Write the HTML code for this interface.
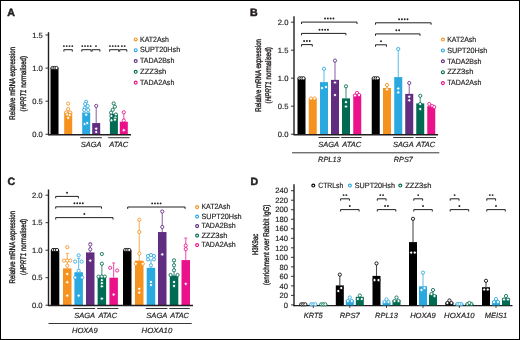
<!DOCTYPE html>
<html><head><meta charset="utf-8"><style>
html,body{margin:0;padding:0;background:#fff;}
svg{display:block;will-change:transform;}
text{font-family:"Liberation Sans",sans-serif;text-rendering:geometricPrecision;fill:#231F20;stroke:#231F20;stroke-width:0.18px;}
</style></head><body>
<svg width="520" height="340" viewBox="0 0 520 340">
<rect x="0" y="0" width="520" height="340" fill="#fff"/>
<text x="7.3" y="15.7" font-size="10.6" text-anchor="start" font-weight="bold" style="stroke-width:0.5px">A</text>
<line x1="48.5" y1="32.2" x2="48.5" y2="135.1" stroke="#231F20" stroke-width="1.4"/>
<line x1="45.5" y1="134.3" x2="48.5" y2="134.3" stroke="#231F20" stroke-width="0.9"/>
<text x="42.8" y="137" font-size="7.6" text-anchor="end">0.0</text>
<line x1="45.5" y1="101.2" x2="48.5" y2="101.2" stroke="#231F20" stroke-width="0.9"/>
<text x="42.8" y="103.9" font-size="7.6" text-anchor="end">0.5</text>
<line x1="45.5" y1="68.1" x2="48.5" y2="68.1" stroke="#231F20" stroke-width="0.9"/>
<text x="42.8" y="70.8" font-size="7.6" text-anchor="end">1.0</text>
<line x1="45.5" y1="35" x2="48.5" y2="35" stroke="#231F20" stroke-width="0.9"/>
<text x="42.8" y="37.7" font-size="7.6" text-anchor="end">1.5</text>
<g transform="translate(14.9,83.3) rotate(-90)">
<text x="0" y="0" font-size="8.2" text-anchor="middle" textLength="72.7" lengthAdjust="spacingAndGlyphs" style="stroke-width:0.38px">Relative mRNA expression</text>
</g>
<g transform="translate(25.7,83.7) rotate(-90)">
<text x="0" y="0" font-size="8.2" text-anchor="middle" textLength="55.4" lengthAdjust="spacingAndGlyphs" style="stroke-width:0.38px">(<tspan font-style="italic">HPRT1</tspan> normalised)</text>
</g>
<rect x="50.5" y="68.1" width="8" height="66.2" fill="#000000"/>
<rect x="64.2" y="111.79" width="8" height="22.51" fill="#F6921E"/>
<rect x="82.2" y="112.45" width="8" height="21.85" fill="#2AA8E0"/>
<g opacity="0.7">
<line x1="96.2" y1="123.05" x2="96.2" y2="105.83" stroke="#612D80" stroke-width="1.1"/>
<line x1="94.7" y1="105.83" x2="97.7" y2="105.83" stroke="#612D80" stroke-width="1.1"/>
</g>
<rect x="92.2" y="123.05" width="8" height="11.25" fill="#612D80"/>
<rect x="109.9" y="113.78" width="8" height="20.52" fill="#006B52"/>
<g opacity="0.7">
<line x1="123.8" y1="121.72" x2="123.8" y2="112.45" stroke="#EB118B" stroke-width="1.1"/>
<line x1="122.3" y1="112.45" x2="125.3" y2="112.45" stroke="#EB118B" stroke-width="1.1"/>
</g>
<rect x="119.8" y="121.72" width="8" height="12.58" fill="#EB118B"/>
<circle cx="52.5" cy="68" r="1.6" fill="#fff" stroke="#000000" stroke-width="0.85"/>
<circle cx="54.5" cy="68" r="1.6" fill="#fff" stroke="#000000" stroke-width="0.85"/>
<circle cx="56.5" cy="68" r="1.6" fill="#fff" stroke="#000000" stroke-width="0.85"/>
<circle cx="68.2" cy="103.6" r="1.6" fill="#fff" stroke="#F6921E" stroke-width="0.85"/>
<circle cx="68.2" cy="109" r="1.6" fill="#fff" stroke="#F6921E" stroke-width="0.85"/>
<circle cx="66.2" cy="112.5" r="1.6" fill="#fff" stroke="#F6921E" stroke-width="0.85"/>
<circle cx="70.2" cy="112.5" r="1.6" fill="#fff" stroke="#F6921E" stroke-width="0.85"/>
<circle cx="67.2" cy="114.5" r="1.6" fill="#fff" stroke="#F6921E" stroke-width="0.85"/>
<circle cx="69.7" cy="115" r="1.6" fill="#fff" stroke="#F6921E" stroke-width="0.85"/>
<circle cx="68.2" cy="117.8" r="1.6" fill="#fff" stroke="#F6921E" stroke-width="0.85"/>
<circle cx="86.2" cy="101.8" r="1.6" fill="#fff" stroke="#2AA8E0" stroke-width="0.85"/>
<circle cx="85.2" cy="104" r="1.6" fill="#fff" stroke="#2AA8E0" stroke-width="0.85"/>
<circle cx="87.7" cy="106" r="1.6" fill="#fff" stroke="#2AA8E0" stroke-width="0.85"/>
<circle cx="84.7" cy="108" r="1.6" fill="#fff" stroke="#2AA8E0" stroke-width="0.85"/>
<circle cx="84.2" cy="110" r="1.6" fill="#fff" stroke="#2AA8E0" stroke-width="0.85"/>
<circle cx="88.2" cy="110" r="1.6" fill="#fff" stroke="#2AA8E0" stroke-width="0.85"/>
<circle cx="86.2" cy="114.7" r="1.6" fill="#fff" stroke="#2AA8E0" stroke-width="0.85"/>
<circle cx="84.7" cy="124" r="1.6" fill="#fff" stroke="#2AA8E0" stroke-width="0.85"/>
<circle cx="87.2" cy="123" r="1.6" fill="#fff" stroke="#2AA8E0" stroke-width="0.85"/>
<circle cx="96.2" cy="105.9" r="1.6" fill="#fff" stroke="#612D80" stroke-width="0.85"/>
<circle cx="96.2" cy="128.7" r="1.6" fill="#fff" stroke="#612D80" stroke-width="0.85"/>
<circle cx="96.2" cy="132" r="1.6" fill="#fff" stroke="#612D80" stroke-width="0.85"/>
<circle cx="113.7" cy="103.4" r="1.6" fill="#fff" stroke="#006B52" stroke-width="0.85"/>
<circle cx="114.9" cy="106.7" r="1.6" fill="#fff" stroke="#006B52" stroke-width="0.85"/>
<circle cx="112.7" cy="109.8" r="1.6" fill="#fff" stroke="#006B52" stroke-width="0.85"/>
<circle cx="111.1" cy="112.7" r="1.6" fill="#fff" stroke="#006B52" stroke-width="0.85"/>
<circle cx="115.9" cy="114.5" r="1.6" fill="#fff" stroke="#006B52" stroke-width="0.85"/>
<circle cx="111.4" cy="116" r="1.6" fill="#fff" stroke="#006B52" stroke-width="0.85"/>
<circle cx="115.4" cy="117.6" r="1.6" fill="#fff" stroke="#006B52" stroke-width="0.85"/>
<circle cx="111.4" cy="120.3" r="1.6" fill="#fff" stroke="#006B52" stroke-width="0.85"/>
<circle cx="114.9" cy="119.7" r="1.6" fill="#fff" stroke="#006B52" stroke-width="0.85"/>
<circle cx="123.8" cy="112.3" r="1.6" fill="#fff" stroke="#EB118B" stroke-width="0.85"/>
<circle cx="123.8" cy="120.5" r="1.6" fill="#fff" stroke="#EB118B" stroke-width="0.85"/>
<circle cx="123.8" cy="130.2" r="1.6" fill="#fff" stroke="#EB118B" stroke-width="0.85"/>
<line x1="48" y1="134.7" x2="131" y2="134.7" stroke="#231F20" stroke-width="1.4"/>
<line x1="80.2" y1="137.7" x2="101.8" y2="137.7" stroke="#231F20" stroke-width="0.9"/>
<line x1="108.2" y1="137.7" x2="129.5" y2="137.7" stroke="#231F20" stroke-width="0.9"/>
<text x="91.2" y="146.6" font-size="7.5" text-anchor="middle" font-style="italic" textLength="20.7" lengthAdjust="spacingAndGlyphs">SAGA</text>
<text x="118.8" y="146.6" font-size="7.5" text-anchor="middle" font-style="italic" textLength="19" lengthAdjust="spacingAndGlyphs">ATAC</text>
<path d="M63.9 51.6V49.7H72.3V51.6" fill="none" stroke="#231F20" stroke-width="1.0"/>
<circle cx="63.9" cy="46.1" r="0.95" fill="#231F20"/>
<circle cx="66.7" cy="46.1" r="0.95" fill="#231F20"/>
<circle cx="69.5" cy="46.1" r="0.95" fill="#231F20"/>
<circle cx="72.3" cy="46.1" r="0.95" fill="#231F20"/>
<path d="M81.8 51.6V49.7H91.1V51.6" fill="none" stroke="#231F20" stroke-width="1.0"/>
<circle cx="82.25" cy="46.1" r="0.95" fill="#231F20"/>
<circle cx="85.05" cy="46.1" r="0.95" fill="#231F20"/>
<circle cx="87.85" cy="46.1" r="0.95" fill="#231F20"/>
<circle cx="90.65" cy="46.1" r="0.95" fill="#231F20"/>
<path d="M92.1 51.6V49.7H99.9V51.6" fill="none" stroke="#231F20" stroke-width="1.0"/>
<circle cx="96" cy="46.1" r="0.95" fill="#231F20"/>
<path d="M109.6 51.6V49.7H118.7V51.6" fill="none" stroke="#231F20" stroke-width="1.0"/>
<circle cx="109.95" cy="46.1" r="0.95" fill="#231F20"/>
<circle cx="112.75" cy="46.1" r="0.95" fill="#231F20"/>
<circle cx="115.55" cy="46.1" r="0.95" fill="#231F20"/>
<circle cx="118.35" cy="46.1" r="0.95" fill="#231F20"/>
<path d="M119.7 51.6V49.7H126.8V51.6" fill="none" stroke="#231F20" stroke-width="1.0"/>
<circle cx="121.85" cy="46.1" r="0.95" fill="#231F20"/>
<circle cx="124.65" cy="46.1" r="0.95" fill="#231F20"/>
<circle cx="135.7" cy="39.4" r="1.45" fill="#fff" stroke="#F6921E" stroke-width="1.15"/>
<text x="140" y="41.6" font-size="7.6" text-anchor="start" textLength="29" lengthAdjust="spacingAndGlyphs">KAT2Ash</text>
<circle cx="135.7" cy="50.2" r="1.45" fill="#fff" stroke="#2AA8E0" stroke-width="1.15"/>
<text x="140" y="52.4" font-size="7.6" text-anchor="start" textLength="40.2" lengthAdjust="spacingAndGlyphs">SUPT20Hsh</text>
<circle cx="135.7" cy="61" r="1.45" fill="#fff" stroke="#612D80" stroke-width="1.15"/>
<text x="140" y="63.2" font-size="7.6" text-anchor="start" textLength="34.3" lengthAdjust="spacingAndGlyphs">TADA2Bsh</text>
<circle cx="135.7" cy="71.8" r="1.45" fill="#fff" stroke="#006B52" stroke-width="1.15"/>
<text x="140" y="74" font-size="7.6" text-anchor="start" textLength="26.2" lengthAdjust="spacingAndGlyphs">ZZZ3sh</text>
<circle cx="135.7" cy="82.6" r="1.45" fill="#fff" stroke="#EB118B" stroke-width="1.15"/>
<text x="140" y="84.8" font-size="7.6" text-anchor="start" textLength="34.3" lengthAdjust="spacingAndGlyphs">TADA2Ash</text>
<text x="250" y="15.9" font-size="10.6" text-anchor="start" font-weight="bold" style="stroke-width:0.5px">B</text>
<line x1="294" y1="16.2" x2="294" y2="135.1" stroke="#231F20" stroke-width="1.4"/>
<line x1="291" y1="134.2" x2="294" y2="134.2" stroke="#231F20" stroke-width="0.9"/>
<text x="288.4" y="136.9" font-size="7.6" text-anchor="end">0.0</text>
<line x1="291" y1="106.2" x2="294" y2="106.2" stroke="#231F20" stroke-width="0.9"/>
<text x="288.4" y="108.9" font-size="7.6" text-anchor="end">0.5</text>
<line x1="291" y1="78.2" x2="294" y2="78.2" stroke="#231F20" stroke-width="0.9"/>
<text x="288.4" y="80.9" font-size="7.6" text-anchor="end">1.0</text>
<line x1="291" y1="50.2" x2="294" y2="50.2" stroke="#231F20" stroke-width="0.9"/>
<text x="288.4" y="52.9" font-size="7.6" text-anchor="end">1.5</text>
<line x1="291" y1="22.2" x2="294" y2="22.2" stroke="#231F20" stroke-width="0.9"/>
<text x="288.4" y="24.9" font-size="7.6" text-anchor="end">2.0</text>
<g transform="translate(260.5,75.4) rotate(-90)">
<text x="0" y="0" font-size="8.2" text-anchor="middle" textLength="72.8" lengthAdjust="spacingAndGlyphs" style="stroke-width:0.38px">Relative mRNA expression</text>
</g>
<g transform="translate(271.1,75.3) rotate(-90)">
<text x="0" y="0" font-size="8.2" text-anchor="middle" textLength="56.2" lengthAdjust="spacingAndGlyphs" style="stroke-width:0.38px">(<tspan font-style="italic">HPRT1</tspan> normalised)</text>
</g>
<rect x="297.5" y="78.2" width="8" height="56.1" fill="#000000"/>
<rect x="308.75" y="98.36" width="8" height="35.94" fill="#F6921E"/>
<g opacity="0.7">
<line x1="324" y1="82.12" x2="324" y2="69.24" stroke="#2AA8E0" stroke-width="1.1"/>
<line x1="322.5" y1="69.24" x2="325.5" y2="69.24" stroke="#2AA8E0" stroke-width="1.1"/>
</g>
<rect x="320" y="82.12" width="8" height="52.18" fill="#2AA8E0"/>
<g opacity="0.7">
<line x1="335" y1="79.88" x2="335" y2="60.84" stroke="#612D80" stroke-width="1.1"/>
<line x1="333.5" y1="60.84" x2="336.5" y2="60.84" stroke="#612D80" stroke-width="1.1"/>
</g>
<rect x="331" y="79.88" width="8" height="54.42" fill="#612D80"/>
<g opacity="0.7">
<line x1="346" y1="98.36" x2="346" y2="86.6" stroke="#006B52" stroke-width="1.1"/>
<line x1="344.5" y1="86.6" x2="347.5" y2="86.6" stroke="#006B52" stroke-width="1.1"/>
</g>
<rect x="342" y="98.36" width="8" height="35.94" fill="#006B52"/>
<rect x="353.25" y="94.44" width="8" height="39.86" fill="#EB118B"/>
<circle cx="299.5" cy="78.3" r="1.6" fill="#fff" stroke="#000000" stroke-width="0.85"/>
<circle cx="301.5" cy="78.3" r="1.6" fill="#fff" stroke="#000000" stroke-width="0.85"/>
<circle cx="303.5" cy="78.3" r="1.6" fill="#fff" stroke="#000000" stroke-width="0.85"/>
<circle cx="310.95" cy="98.5" r="1.6" fill="#fff" stroke="#F6921E" stroke-width="0.85"/>
<circle cx="314.55" cy="98.5" r="1.6" fill="#fff" stroke="#F6921E" stroke-width="0.85"/>
<circle cx="324" cy="68.8" r="1.6" fill="#fff" stroke="#2AA8E0" stroke-width="0.85"/>
<circle cx="322" cy="88" r="1.6" fill="#fff" stroke="#2AA8E0" stroke-width="0.85"/>
<circle cx="326" cy="87" r="1.6" fill="#fff" stroke="#2AA8E0" stroke-width="0.85"/>
<circle cx="335" cy="60.6" r="1.6" fill="#fff" stroke="#612D80" stroke-width="0.85"/>
<circle cx="335" cy="82.5" r="1.6" fill="#fff" stroke="#612D80" stroke-width="0.85"/>
<circle cx="335" cy="95" r="1.6" fill="#fff" stroke="#612D80" stroke-width="0.85"/>
<circle cx="346" cy="86.3" r="1.6" fill="#fff" stroke="#006B52" stroke-width="0.85"/>
<circle cx="346" cy="102.1" r="1.6" fill="#fff" stroke="#006B52" stroke-width="0.85"/>
<circle cx="346" cy="106.5" r="1.6" fill="#fff" stroke="#006B52" stroke-width="0.85"/>
<circle cx="355" cy="95.5" r="1.6" fill="#fff" stroke="#EB118B" stroke-width="0.85"/>
<circle cx="357" cy="92.9" r="1.6" fill="#fff" stroke="#EB118B" stroke-width="0.85"/>
<circle cx="359.1" cy="95" r="1.6" fill="#fff" stroke="#EB118B" stroke-width="0.85"/>
<rect x="371.75" y="78.2" width="8" height="56.1" fill="#000000"/>
<g opacity="0.7">
<line x1="387" y1="88" x2="387" y2="84.36" stroke="#F6921E" stroke-width="1.1"/>
<line x1="385.5" y1="84.36" x2="388.5" y2="84.36" stroke="#F6921E" stroke-width="1.1"/>
</g>
<rect x="383" y="88" width="8" height="46.3" fill="#F6921E"/>
<g opacity="0.7">
<line x1="398.25" y1="77.08" x2="398.25" y2="49.08" stroke="#2AA8E0" stroke-width="1.1"/>
<line x1="396.75" y1="49.08" x2="399.75" y2="49.08" stroke="#2AA8E0" stroke-width="1.1"/>
</g>
<rect x="394.25" y="77.08" width="8" height="57.22" fill="#2AA8E0"/>
<g opacity="0.7">
<line x1="409.25" y1="93.88" x2="409.25" y2="83.24" stroke="#612D80" stroke-width="1.1"/>
<line x1="407.75" y1="83.24" x2="410.75" y2="83.24" stroke="#612D80" stroke-width="1.1"/>
</g>
<rect x="405.25" y="93.88" width="8" height="40.42" fill="#612D80"/>
<g opacity="0.7">
<line x1="420.25" y1="103.4" x2="420.25" y2="95.56" stroke="#006B52" stroke-width="1.1"/>
<line x1="418.75" y1="95.56" x2="421.75" y2="95.56" stroke="#006B52" stroke-width="1.1"/>
</g>
<rect x="416.25" y="103.4" width="8" height="30.9" fill="#006B52"/>
<rect x="427.25" y="106.2" width="8" height="28.1" fill="#EB118B"/>
<circle cx="373.75" cy="78.3" r="1.6" fill="#fff" stroke="#000000" stroke-width="0.85"/>
<circle cx="375.75" cy="78.3" r="1.6" fill="#fff" stroke="#000000" stroke-width="0.85"/>
<circle cx="377.75" cy="78.3" r="1.6" fill="#fff" stroke="#000000" stroke-width="0.85"/>
<circle cx="387" cy="85" r="1.6" fill="#fff" stroke="#F6921E" stroke-width="0.85"/>
<circle cx="387" cy="89.4" r="1.6" fill="#fff" stroke="#F6921E" stroke-width="0.85"/>
<circle cx="398.25" cy="49" r="1.6" fill="#fff" stroke="#2AA8E0" stroke-width="0.85"/>
<circle cx="398.25" cy="88.5" r="1.6" fill="#fff" stroke="#2AA8E0" stroke-width="0.85"/>
<circle cx="398.25" cy="92.4" r="1.6" fill="#fff" stroke="#2AA8E0" stroke-width="0.85"/>
<circle cx="409.25" cy="83" r="1.6" fill="#fff" stroke="#612D80" stroke-width="0.85"/>
<circle cx="409.25" cy="96.7" r="1.6" fill="#fff" stroke="#612D80" stroke-width="0.85"/>
<circle cx="409.25" cy="100.3" r="1.6" fill="#fff" stroke="#612D80" stroke-width="0.85"/>
<circle cx="420.25" cy="95.8" r="1.6" fill="#fff" stroke="#006B52" stroke-width="0.85"/>
<circle cx="420.25" cy="104" r="1.6" fill="#fff" stroke="#006B52" stroke-width="0.85"/>
<circle cx="420.25" cy="109" r="1.6" fill="#fff" stroke="#006B52" stroke-width="0.85"/>
<circle cx="429.25" cy="104" r="1.6" fill="#fff" stroke="#EB118B" stroke-width="0.85"/>
<circle cx="432.25" cy="106" r="1.6" fill="#fff" stroke="#EB118B" stroke-width="0.85"/>
<circle cx="434.25" cy="107" r="1.6" fill="#fff" stroke="#EB118B" stroke-width="0.85"/>
<line x1="293.5" y1="134.7" x2="438" y2="134.7" stroke="#231F20" stroke-width="1.4"/>
<line x1="318.5" y1="137.5" x2="339.5" y2="137.5" stroke="#231F20" stroke-width="0.9"/>
<line x1="341.2" y1="137.5" x2="361.5" y2="137.5" stroke="#231F20" stroke-width="0.9"/>
<line x1="393.2" y1="137.5" x2="413.5" y2="137.5" stroke="#231F20" stroke-width="0.9"/>
<line x1="415.6" y1="137.5" x2="436" y2="137.5" stroke="#231F20" stroke-width="0.9"/>
<text x="328.6" y="146.6" font-size="7.5" text-anchor="middle" font-style="italic" textLength="20.7" lengthAdjust="spacingAndGlyphs">SAGA</text>
<text x="351.7" y="146.6" font-size="7.5" text-anchor="middle" font-style="italic" textLength="19" lengthAdjust="spacingAndGlyphs">ATAC</text>
<text x="403.3" y="146.6" font-size="7.5" text-anchor="middle" font-style="italic" textLength="20.7" lengthAdjust="spacingAndGlyphs">SAGA</text>
<text x="425.8" y="146.6" font-size="7.5" text-anchor="middle" font-style="italic" textLength="19" lengthAdjust="spacingAndGlyphs">ATAC</text>
<line x1="292" y1="152.8" x2="439.3" y2="152.8" stroke="#231F20" stroke-width="0.9"/>
<text x="329.4" y="162" font-size="7.5" text-anchor="middle" font-style="italic" textLength="22.8" lengthAdjust="spacingAndGlyphs">RPL13</text>
<text x="403.3" y="162" font-size="7.5" text-anchor="middle" font-style="italic" textLength="19" lengthAdjust="spacingAndGlyphs">RPS7</text>
<path d="M301.5 24V22.1H357V24" fill="none" stroke="#231F20" stroke-width="1.0"/>
<circle cx="325.05" cy="18.5" r="0.95" fill="#231F20"/>
<circle cx="327.85" cy="18.5" r="0.95" fill="#231F20"/>
<circle cx="330.65" cy="18.5" r="0.95" fill="#231F20"/>
<circle cx="333.45" cy="18.5" r="0.95" fill="#231F20"/>
<path d="M301.5 35.3V33.4H345.9V35.3" fill="none" stroke="#231F20" stroke-width="1.0"/>
<circle cx="319.5" cy="29.8" r="0.95" fill="#231F20"/>
<circle cx="322.3" cy="29.8" r="0.95" fill="#231F20"/>
<circle cx="325.1" cy="29.8" r="0.95" fill="#231F20"/>
<circle cx="327.9" cy="29.8" r="0.95" fill="#231F20"/>
<path d="M301.5 46.5V44.6H312.3V46.5" fill="none" stroke="#231F20" stroke-width="1.0"/>
<circle cx="304.1" cy="41" r="0.95" fill="#231F20"/>
<circle cx="306.9" cy="41" r="0.95" fill="#231F20"/>
<circle cx="309.7" cy="41" r="0.95" fill="#231F20"/>
<path d="M375.5 24.7V22.8H431.1V24.7" fill="none" stroke="#231F20" stroke-width="1.0"/>
<circle cx="399.1" cy="19.2" r="0.95" fill="#231F20"/>
<circle cx="401.9" cy="19.2" r="0.95" fill="#231F20"/>
<circle cx="404.7" cy="19.2" r="0.95" fill="#231F20"/>
<circle cx="407.5" cy="19.2" r="0.95" fill="#231F20"/>
<path d="M375.5 35.8V33.9H420V35.8" fill="none" stroke="#231F20" stroke-width="1.0"/>
<circle cx="396.35" cy="30.3" r="0.95" fill="#231F20"/>
<circle cx="399.15" cy="30.3" r="0.95" fill="#231F20"/>
<path d="M375.5 46.7V44.8H386.5V46.7" fill="none" stroke="#231F20" stroke-width="1.0"/>
<circle cx="381" cy="41.2" r="0.95" fill="#231F20"/>
<circle cx="442.9" cy="39.5" r="1.45" fill="#fff" stroke="#F6921E" stroke-width="1.15"/>
<text x="447.2" y="41.7" font-size="7.6" text-anchor="start" textLength="29" lengthAdjust="spacingAndGlyphs">KAT2Ash</text>
<circle cx="442.9" cy="50.4" r="1.45" fill="#fff" stroke="#2AA8E0" stroke-width="1.15"/>
<text x="447.2" y="52.6" font-size="7.6" text-anchor="start" textLength="40.2" lengthAdjust="spacingAndGlyphs">SUPT20Hsh</text>
<circle cx="442.9" cy="61.3" r="1.45" fill="#fff" stroke="#612D80" stroke-width="1.15"/>
<text x="447.2" y="63.5" font-size="7.6" text-anchor="start" textLength="34.3" lengthAdjust="spacingAndGlyphs">TADA2Bsh</text>
<circle cx="442.9" cy="72.2" r="1.45" fill="#fff" stroke="#006B52" stroke-width="1.15"/>
<text x="447.2" y="74.4" font-size="7.6" text-anchor="start" textLength="26.2" lengthAdjust="spacingAndGlyphs">ZZZ3sh</text>
<circle cx="442.9" cy="83.1" r="1.45" fill="#fff" stroke="#EB118B" stroke-width="1.15"/>
<text x="447.2" y="85.3" font-size="7.6" text-anchor="start" textLength="34.3" lengthAdjust="spacingAndGlyphs">TADA2Ash</text>
<text x="7.4" y="184.7" font-size="10.6" text-anchor="start" font-weight="bold" style="stroke-width:0.5px">C</text>
<line x1="48.5" y1="189.5" x2="48.5" y2="306" stroke="#231F20" stroke-width="1.4"/>
<line x1="45.5" y1="305.2" x2="48.5" y2="305.2" stroke="#231F20" stroke-width="0.9"/>
<text x="42.6" y="307.9" font-size="7.6" text-anchor="end">0.0</text>
<line x1="45.5" y1="277.7" x2="48.5" y2="277.7" stroke="#231F20" stroke-width="0.9"/>
<text x="42.6" y="280.4" font-size="7.6" text-anchor="end">0.5</text>
<line x1="45.5" y1="250.2" x2="48.5" y2="250.2" stroke="#231F20" stroke-width="0.9"/>
<text x="42.6" y="252.9" font-size="7.6" text-anchor="end">1.0</text>
<line x1="45.5" y1="222.7" x2="48.5" y2="222.7" stroke="#231F20" stroke-width="0.9"/>
<text x="42.6" y="225.4" font-size="7.6" text-anchor="end">1.5</text>
<line x1="45.5" y1="195.2" x2="48.5" y2="195.2" stroke="#231F20" stroke-width="0.9"/>
<text x="42.6" y="197.9" font-size="7.6" text-anchor="end">2.0</text>
<g transform="translate(15.1,247.2) rotate(-90)">
<text x="0" y="0" font-size="8.2" text-anchor="middle" textLength="72.5" lengthAdjust="spacingAndGlyphs" style="stroke-width:0.38px">Relative mRNA expression</text>
</g>
<g transform="translate(25.7,246.9) rotate(-90)">
<text x="0" y="0" font-size="8.2" text-anchor="middle" textLength="56" lengthAdjust="spacingAndGlyphs" style="stroke-width:0.38px">(<tspan font-style="italic">HPRT1</tspan> normalised)</text>
</g>
<rect x="50.8" y="250.2" width="8.5" height="55" fill="#000000"/>
<g opacity="0.7">
<line x1="67.25" y1="268.35" x2="67.25" y2="253.5" stroke="#F6921E" stroke-width="1.1"/>
<line x1="65.75" y1="253.5" x2="68.75" y2="253.5" stroke="#F6921E" stroke-width="1.1"/>
</g>
<rect x="63" y="268.35" width="8.5" height="36.85" fill="#F6921E"/>
<g opacity="0.7">
<line x1="78.65" y1="272.2" x2="78.65" y2="258.45" stroke="#2AA8E0" stroke-width="1.1"/>
<line x1="77.15" y1="258.45" x2="80.15" y2="258.45" stroke="#2AA8E0" stroke-width="1.1"/>
</g>
<rect x="74.4" y="272.2" width="8.5" height="33" fill="#2AA8E0"/>
<g opacity="0.7">
<line x1="90.25" y1="252.4" x2="90.25" y2="243.05" stroke="#612D80" stroke-width="1.1"/>
<line x1="88.75" y1="243.05" x2="91.75" y2="243.05" stroke="#612D80" stroke-width="1.1"/>
</g>
<rect x="86" y="252.4" width="8.5" height="52.8" fill="#612D80"/>
<g opacity="0.7">
<line x1="101.85" y1="276.6" x2="101.85" y2="264.5" stroke="#006B52" stroke-width="1.1"/>
<line x1="100.35" y1="264.5" x2="103.35" y2="264.5" stroke="#006B52" stroke-width="1.1"/>
</g>
<rect x="97.6" y="276.6" width="8.5" height="28.6" fill="#006B52"/>
<g opacity="0.7">
<line x1="113.65" y1="277.7" x2="113.65" y2="263.01" stroke="#EB118B" stroke-width="1.1"/>
<line x1="112.15" y1="263.01" x2="115.15" y2="263.01" stroke="#EB118B" stroke-width="1.1"/>
</g>
<rect x="109.4" y="277.7" width="8.5" height="27.5" fill="#EB118B"/>
<rect x="123" y="250.2" width="8.5" height="55" fill="#000000"/>
<g opacity="0.7">
<line x1="139.25" y1="260.65" x2="139.25" y2="220.5" stroke="#F6921E" stroke-width="1.1"/>
<line x1="137.75" y1="220.5" x2="140.75" y2="220.5" stroke="#F6921E" stroke-width="1.1"/>
</g>
<rect x="135" y="260.65" width="8.5" height="44.55" fill="#F6921E"/>
<g opacity="0.7">
<line x1="150.95" y1="267.8" x2="150.95" y2="260.1" stroke="#2AA8E0" stroke-width="1.1"/>
<line x1="149.45" y1="260.1" x2="152.45" y2="260.1" stroke="#2AA8E0" stroke-width="1.1"/>
</g>
<rect x="146.7" y="267.8" width="8.5" height="37.4" fill="#2AA8E0"/>
<g opacity="0.7">
<line x1="162.25" y1="232.05" x2="162.25" y2="210.6" stroke="#612D80" stroke-width="1.1"/>
<line x1="160.75" y1="210.6" x2="163.75" y2="210.6" stroke="#612D80" stroke-width="1.1"/>
</g>
<rect x="158" y="232.05" width="8.5" height="73.15" fill="#612D80"/>
<g opacity="0.7">
<line x1="174.05" y1="275.5" x2="174.05" y2="261.2" stroke="#006B52" stroke-width="1.1"/>
<line x1="172.55" y1="261.2" x2="175.55" y2="261.2" stroke="#006B52" stroke-width="1.1"/>
</g>
<rect x="169.8" y="275.5" width="8.5" height="29.7" fill="#006B52"/>
<g opacity="0.7">
<line x1="185.75" y1="260.1" x2="185.75" y2="238.1" stroke="#EB118B" stroke-width="1.1"/>
<line x1="184.25" y1="238.1" x2="187.25" y2="238.1" stroke="#EB118B" stroke-width="1.1"/>
</g>
<rect x="181.5" y="260.1" width="8.5" height="45.1" fill="#EB118B"/>
<circle cx="53.05" cy="250" r="1.6" fill="#fff" stroke="#000000" stroke-width="0.85"/>
<circle cx="55.05" cy="250" r="1.6" fill="#fff" stroke="#000000" stroke-width="0.85"/>
<circle cx="57.05" cy="250" r="1.6" fill="#fff" stroke="#000000" stroke-width="0.85"/>
<circle cx="67.25" cy="247.2" r="1.6" fill="#fff" stroke="#F6921E" stroke-width="0.85"/>
<circle cx="64.05" cy="260.6" r="1.6" fill="#fff" stroke="#F6921E" stroke-width="0.85"/>
<circle cx="67.25" cy="260.6" r="1.6" fill="#fff" stroke="#F6921E" stroke-width="0.85"/>
<circle cx="70.25" cy="260.6" r="1.6" fill="#fff" stroke="#F6921E" stroke-width="0.85"/>
<circle cx="67.25" cy="265.7" r="1.6" fill="#fff" stroke="#F6921E" stroke-width="0.85"/>
<circle cx="67.25" cy="274" r="1.6" fill="#fff" stroke="#F6921E" stroke-width="0.85"/>
<circle cx="67.25" cy="282.2" r="1.6" fill="#fff" stroke="#F6921E" stroke-width="0.85"/>
<circle cx="67.25" cy="295.6" r="1.6" fill="#fff" stroke="#F6921E" stroke-width="0.85"/>
<circle cx="78.65" cy="255.4" r="1.6" fill="#fff" stroke="#2AA8E0" stroke-width="0.85"/>
<circle cx="75.15" cy="261.6" r="1.6" fill="#fff" stroke="#2AA8E0" stroke-width="0.85"/>
<circle cx="81.65" cy="261.6" r="1.6" fill="#fff" stroke="#2AA8E0" stroke-width="0.85"/>
<circle cx="78.65" cy="270.9" r="1.6" fill="#fff" stroke="#2AA8E0" stroke-width="0.85"/>
<circle cx="75.15" cy="277.5" r="1.6" fill="#fff" stroke="#2AA8E0" stroke-width="0.85"/>
<circle cx="82.15" cy="277.5" r="1.6" fill="#fff" stroke="#2AA8E0" stroke-width="0.85"/>
<circle cx="78.65" cy="295.6" r="1.6" fill="#fff" stroke="#2AA8E0" stroke-width="0.85"/>
<circle cx="90.25" cy="244.5" r="1.6" fill="#fff" stroke="#612D80" stroke-width="0.85"/>
<circle cx="90.25" cy="249.3" r="1.6" fill="#fff" stroke="#612D80" stroke-width="0.85"/>
<circle cx="90.25" cy="260.6" r="1.6" fill="#fff" stroke="#612D80" stroke-width="0.85"/>
<circle cx="101.85" cy="254" r="1.6" fill="#fff" stroke="#006B52" stroke-width="0.85"/>
<circle cx="101.85" cy="263.7" r="1.6" fill="#fff" stroke="#006B52" stroke-width="0.85"/>
<circle cx="98.55" cy="276.6" r="1.6" fill="#fff" stroke="#006B52" stroke-width="0.85"/>
<circle cx="101.85" cy="276.6" r="1.6" fill="#fff" stroke="#006B52" stroke-width="0.85"/>
<circle cx="104.85" cy="276.6" r="1.6" fill="#fff" stroke="#006B52" stroke-width="0.85"/>
<circle cx="101.85" cy="280.1" r="1.6" fill="#fff" stroke="#006B52" stroke-width="0.85"/>
<circle cx="101.85" cy="283.2" r="1.6" fill="#fff" stroke="#006B52" stroke-width="0.85"/>
<circle cx="101.85" cy="286.3" r="1.6" fill="#fff" stroke="#006B52" stroke-width="0.85"/>
<circle cx="101.85" cy="298.6" r="1.6" fill="#fff" stroke="#006B52" stroke-width="0.85"/>
<circle cx="110.15" cy="267.8" r="1.6" fill="#fff" stroke="#EB118B" stroke-width="0.85"/>
<circle cx="117.15" cy="270.5" r="1.6" fill="#fff" stroke="#EB118B" stroke-width="0.85"/>
<circle cx="113.65" cy="294.5" r="1.6" fill="#fff" stroke="#EB118B" stroke-width="0.85"/>
<circle cx="125.25" cy="250" r="1.6" fill="#fff" stroke="#000000" stroke-width="0.85"/>
<circle cx="127.25" cy="250" r="1.6" fill="#fff" stroke="#000000" stroke-width="0.85"/>
<circle cx="129.25" cy="250" r="1.6" fill="#fff" stroke="#000000" stroke-width="0.85"/>
<circle cx="139.25" cy="219.7" r="1.6" fill="#fff" stroke="#F6921E" stroke-width="0.85"/>
<circle cx="139.25" cy="232" r="1.6" fill="#fff" stroke="#F6921E" stroke-width="0.85"/>
<circle cx="139.25" cy="253.5" r="1.6" fill="#fff" stroke="#F6921E" stroke-width="0.85"/>
<circle cx="135.75" cy="263.8" r="1.6" fill="#fff" stroke="#F6921E" stroke-width="0.85"/>
<circle cx="142.75" cy="263.8" r="1.6" fill="#fff" stroke="#F6921E" stroke-width="0.85"/>
<circle cx="139.25" cy="288.8" r="1.6" fill="#fff" stroke="#F6921E" stroke-width="0.85"/>
<circle cx="139.25" cy="292.6" r="1.6" fill="#fff" stroke="#F6921E" stroke-width="0.85"/>
<circle cx="147.95" cy="256" r="1.6" fill="#fff" stroke="#2AA8E0" stroke-width="0.85"/>
<circle cx="150.95" cy="255" r="1.6" fill="#fff" stroke="#2AA8E0" stroke-width="0.85"/>
<circle cx="153.95" cy="256" r="1.6" fill="#fff" stroke="#2AA8E0" stroke-width="0.85"/>
<circle cx="147.95" cy="259.4" r="1.6" fill="#fff" stroke="#2AA8E0" stroke-width="0.85"/>
<circle cx="153.95" cy="259.4" r="1.6" fill="#fff" stroke="#2AA8E0" stroke-width="0.85"/>
<circle cx="150.95" cy="265.3" r="1.6" fill="#fff" stroke="#2AA8E0" stroke-width="0.85"/>
<circle cx="150.95" cy="282" r="1.6" fill="#fff" stroke="#2AA8E0" stroke-width="0.85"/>
<circle cx="150.95" cy="285" r="1.6" fill="#fff" stroke="#2AA8E0" stroke-width="0.85"/>
<circle cx="162.25" cy="211.5" r="1.6" fill="#fff" stroke="#612D80" stroke-width="0.85"/>
<circle cx="162.25" cy="227" r="1.6" fill="#fff" stroke="#612D80" stroke-width="0.85"/>
<circle cx="162.25" cy="254.4" r="1.6" fill="#fff" stroke="#612D80" stroke-width="0.85"/>
<circle cx="174.05" cy="260.3" r="1.6" fill="#fff" stroke="#006B52" stroke-width="0.85"/>
<circle cx="174.05" cy="265.3" r="1.6" fill="#fff" stroke="#006B52" stroke-width="0.85"/>
<circle cx="174.05" cy="270.3" r="1.6" fill="#fff" stroke="#006B52" stroke-width="0.85"/>
<circle cx="170.55" cy="275" r="1.6" fill="#fff" stroke="#006B52" stroke-width="0.85"/>
<circle cx="177.55" cy="275" r="1.6" fill="#fff" stroke="#006B52" stroke-width="0.85"/>
<circle cx="174.05" cy="282" r="1.6" fill="#fff" stroke="#006B52" stroke-width="0.85"/>
<circle cx="174.05" cy="285.9" r="1.6" fill="#fff" stroke="#006B52" stroke-width="0.85"/>
<circle cx="185.75" cy="245.6" r="1.6" fill="#fff" stroke="#EB118B" stroke-width="0.85"/>
<circle cx="185.75" cy="249.1" r="1.6" fill="#fff" stroke="#EB118B" stroke-width="0.85"/>
<circle cx="185.75" cy="283.8" r="1.6" fill="#fff" stroke="#EB118B" stroke-width="0.85"/>
<line x1="48" y1="305.5" x2="193" y2="305.5" stroke="#231F20" stroke-width="1.4"/>
<line x1="73.5" y1="308.5" x2="95.1" y2="308.5" stroke="#231F20" stroke-width="0.9"/>
<line x1="97.2" y1="308.5" x2="118.4" y2="308.5" stroke="#231F20" stroke-width="0.9"/>
<line x1="145.8" y1="308.5" x2="167.4" y2="308.5" stroke="#231F20" stroke-width="0.9"/>
<line x1="169.3" y1="308.5" x2="189.8" y2="308.5" stroke="#231F20" stroke-width="0.9"/>
<text x="84.6" y="317.8" font-size="7.5" text-anchor="middle" font-style="italic" textLength="20.9" lengthAdjust="spacingAndGlyphs">SAGA</text>
<text x="107.8" y="317.8" font-size="7.5" text-anchor="middle" font-style="italic" textLength="18.7" lengthAdjust="spacingAndGlyphs">ATAC</text>
<text x="156.8" y="317.8" font-size="7.5" text-anchor="middle" font-style="italic" textLength="21" lengthAdjust="spacingAndGlyphs">SAGA</text>
<text x="179.6" y="317.8" font-size="7.5" text-anchor="middle" font-style="italic" textLength="18.7" lengthAdjust="spacingAndGlyphs">ATAC</text>
<line x1="48.5" y1="323.5" x2="191.7" y2="323.5" stroke="#231F20" stroke-width="0.9"/>
<text x="84.8" y="332.9" font-size="7.5" text-anchor="middle" font-style="italic" textLength="25.7" lengthAdjust="spacingAndGlyphs">HOXA9</text>
<text x="156.9" y="332.9" font-size="7.5" text-anchor="middle" font-style="italic" textLength="30.8" lengthAdjust="spacingAndGlyphs">HOXA10</text>
<path d="M55.7 198.3V196.4H78.4V198.3" fill="none" stroke="#231F20" stroke-width="1.0"/>
<circle cx="67.05" cy="192.8" r="0.95" fill="#231F20"/>
<path d="M55.7 208.7V206.8H101.5V208.7" fill="none" stroke="#231F20" stroke-width="1.0"/>
<circle cx="74.4" cy="203.2" r="0.95" fill="#231F20"/>
<circle cx="77.2" cy="203.2" r="0.95" fill="#231F20"/>
<circle cx="80" cy="203.2" r="0.95" fill="#231F20"/>
<circle cx="82.8" cy="203.2" r="0.95" fill="#231F20"/>
<path d="M55.7 219.5V217.6H113V219.5" fill="none" stroke="#231F20" stroke-width="1.0"/>
<circle cx="84.35" cy="214" r="0.95" fill="#231F20"/>
<path d="M127.7 208.9V207H185.1V208.9" fill="none" stroke="#231F20" stroke-width="1.0"/>
<circle cx="152.2" cy="203.4" r="0.95" fill="#231F20"/>
<circle cx="155" cy="203.4" r="0.95" fill="#231F20"/>
<circle cx="157.8" cy="203.4" r="0.95" fill="#231F20"/>
<circle cx="160.6" cy="203.4" r="0.95" fill="#231F20"/>
<circle cx="197.1" cy="207.1" r="1.45" fill="#fff" stroke="#F6921E" stroke-width="1.15"/>
<text x="201.4" y="209.3" font-size="7.6" text-anchor="start" textLength="29" lengthAdjust="spacingAndGlyphs">KAT2Ash</text>
<circle cx="197.1" cy="216.6" r="1.45" fill="#fff" stroke="#2AA8E0" stroke-width="1.15"/>
<text x="201.4" y="218.8" font-size="7.6" text-anchor="start" textLength="40.2" lengthAdjust="spacingAndGlyphs">SUPT20Hsh</text>
<circle cx="197.1" cy="226.1" r="1.45" fill="#fff" stroke="#612D80" stroke-width="1.15"/>
<text x="201.4" y="228.3" font-size="7.6" text-anchor="start" textLength="34.3" lengthAdjust="spacingAndGlyphs">TADA2Bsh</text>
<circle cx="197.1" cy="235.6" r="1.45" fill="#fff" stroke="#006B52" stroke-width="1.15"/>
<text x="201.4" y="237.8" font-size="7.6" text-anchor="start" textLength="26.2" lengthAdjust="spacingAndGlyphs">ZZZ3sh</text>
<circle cx="197.1" cy="245.1" r="1.45" fill="#fff" stroke="#EB118B" stroke-width="1.15"/>
<text x="201.4" y="247.3" font-size="7.6" text-anchor="start" textLength="34.3" lengthAdjust="spacingAndGlyphs">TADA2Ash</text>
<text x="250.6" y="184.5" font-size="10.6" text-anchor="start" font-weight="bold" style="stroke-width:0.5px">D</text>
<line x1="294" y1="184.3" x2="294" y2="306.2" stroke="#231F20" stroke-width="1.4"/>
<line x1="291" y1="304.9" x2="294" y2="304.9" stroke="#231F20" stroke-width="0.9"/>
<text x="287.9" y="307.6" font-size="7.6" text-anchor="end">0</text>
<line x1="291" y1="295.38" x2="294" y2="295.38" stroke="#231F20" stroke-width="0.9"/>
<text x="287.9" y="298.08" font-size="7.6" text-anchor="end">20</text>
<line x1="291" y1="285.87" x2="294" y2="285.87" stroke="#231F20" stroke-width="0.9"/>
<text x="287.9" y="288.57" font-size="7.6" text-anchor="end">40</text>
<line x1="291" y1="276.35" x2="294" y2="276.35" stroke="#231F20" stroke-width="0.9"/>
<text x="287.9" y="279.05" font-size="7.6" text-anchor="end">60</text>
<line x1="291" y1="266.84" x2="294" y2="266.84" stroke="#231F20" stroke-width="0.9"/>
<text x="287.9" y="269.54" font-size="7.6" text-anchor="end">80</text>
<line x1="291" y1="257.32" x2="294" y2="257.32" stroke="#231F20" stroke-width="0.9"/>
<text x="287.9" y="260.02" font-size="7.6" text-anchor="end">100</text>
<line x1="291" y1="247.8" x2="294" y2="247.8" stroke="#231F20" stroke-width="0.9"/>
<text x="287.9" y="250.5" font-size="7.6" text-anchor="end">120</text>
<line x1="291" y1="238.29" x2="294" y2="238.29" stroke="#231F20" stroke-width="0.9"/>
<text x="287.9" y="240.99" font-size="7.6" text-anchor="end">140</text>
<line x1="291" y1="228.77" x2="294" y2="228.77" stroke="#231F20" stroke-width="0.9"/>
<text x="287.9" y="231.47" font-size="7.6" text-anchor="end">160</text>
<line x1="291" y1="219.26" x2="294" y2="219.26" stroke="#231F20" stroke-width="0.9"/>
<text x="287.9" y="221.96" font-size="7.6" text-anchor="end">180</text>
<line x1="291" y1="209.74" x2="294" y2="209.74" stroke="#231F20" stroke-width="0.9"/>
<text x="287.9" y="212.44" font-size="7.6" text-anchor="end">200</text>
<line x1="291" y1="200.22" x2="294" y2="200.22" stroke="#231F20" stroke-width="0.9"/>
<text x="287.9" y="202.92" font-size="7.6" text-anchor="end">220</text>
<line x1="291" y1="190.71" x2="294" y2="190.71" stroke="#231F20" stroke-width="0.9"/>
<text x="287.9" y="193.41" font-size="7.6" text-anchor="end">240</text>
<g transform="translate(257.7,244.4) rotate(-90)">
<text x="0" y="0" font-size="8.2" text-anchor="middle" textLength="21.2" lengthAdjust="spacingAndGlyphs" style="stroke-width:0.38px">H3K9ac</text>
</g>
<g transform="translate(268.6,245) rotate(-90)">
<text x="0" y="0" font-size="8.2" text-anchor="middle" textLength="80.7" lengthAdjust="spacingAndGlyphs" style="stroke-width:0.38px">(enrichment over Rabbit IgG)</text>
</g>
<line x1="293.5" y1="305.6" x2="512.5" y2="305.6" stroke="#231F20" stroke-width="1.4"/>
<rect x="299.3" y="304.42" width="8" height="0.98" fill="#000000"/>
<rect x="309.3" y="304.42" width="8" height="0.98" fill="#2AA8E0"/>
<rect x="319.3" y="304.42" width="8" height="0.98" fill="#006B52"/>
<circle cx="301.3" cy="304.3" r="1.6" fill="#fff" stroke="#000000" stroke-width="0.85"/>
<circle cx="303.3" cy="304.3" r="1.6" fill="#fff" stroke="#000000" stroke-width="0.85"/>
<circle cx="305.3" cy="304.3" r="1.6" fill="#fff" stroke="#000000" stroke-width="0.85"/>
<circle cx="311.3" cy="304.3" r="1.6" fill="#fff" stroke="#2AA8E0" stroke-width="0.85"/>
<circle cx="313.3" cy="304.3" r="1.6" fill="#fff" stroke="#2AA8E0" stroke-width="0.85"/>
<circle cx="315.3" cy="304.3" r="1.6" fill="#fff" stroke="#2AA8E0" stroke-width="0.85"/>
<circle cx="321.3" cy="304.3" r="1.6" fill="#fff" stroke="#006B52" stroke-width="0.85"/>
<circle cx="323.3" cy="304.3" r="1.6" fill="#fff" stroke="#006B52" stroke-width="0.85"/>
<circle cx="325.3" cy="304.3" r="1.6" fill="#fff" stroke="#006B52" stroke-width="0.85"/>
<line x1="313.3" y1="305.4" x2="313.3" y2="308" stroke="#231F20" stroke-width="0.8"/>
<g opacity="0.7">
<line x1="339.8" y1="285.39" x2="339.8" y2="274.92" stroke="#000000" stroke-width="1.1"/>
<line x1="338.3" y1="274.92" x2="341.3" y2="274.92" stroke="#000000" stroke-width="1.1"/>
</g>
<rect x="335.8" y="285.39" width="8" height="20.01" fill="#000000"/>
<rect x="345.8" y="300.14" width="8" height="5.26" fill="#2AA8E0"/>
<rect x="355.8" y="296.81" width="8" height="8.59" fill="#006B52"/>
<circle cx="339.8" cy="274.6" r="1.6" fill="#fff" stroke="#000000" stroke-width="0.85"/>
<circle cx="338.3" cy="291" r="1.6" fill="#fff" stroke="#000000" stroke-width="0.85"/>
<circle cx="341.3" cy="288" r="1.6" fill="#fff" stroke="#000000" stroke-width="0.85"/>
<circle cx="347.8" cy="301" r="1.6" fill="#fff" stroke="#2AA8E0" stroke-width="0.85"/>
<circle cx="351.8" cy="301" r="1.6" fill="#fff" stroke="#2AA8E0" stroke-width="0.85"/>
<circle cx="349.8" cy="297.5" r="1.6" fill="#fff" stroke="#2AA8E0" stroke-width="0.85"/>
<circle cx="357.8" cy="299" r="1.6" fill="#fff" stroke="#006B52" stroke-width="0.85"/>
<circle cx="361.8" cy="299" r="1.6" fill="#fff" stroke="#006B52" stroke-width="0.85"/>
<circle cx="359.8" cy="295.5" r="1.6" fill="#fff" stroke="#006B52" stroke-width="0.85"/>
<line x1="349.8" y1="305.4" x2="349.8" y2="308" stroke="#231F20" stroke-width="0.8"/>
<g opacity="0.7">
<line x1="376.5" y1="275.88" x2="376.5" y2="264.46" stroke="#000000" stroke-width="1.1"/>
<line x1="375" y1="264.46" x2="378" y2="264.46" stroke="#000000" stroke-width="1.1"/>
</g>
<rect x="372.5" y="275.88" width="8" height="29.52" fill="#000000"/>
<rect x="382.5" y="302.52" width="8" height="2.88" fill="#2AA8E0"/>
<rect x="392.5" y="300.14" width="8" height="5.26" fill="#006B52"/>
<circle cx="376.5" cy="263.4" r="1.6" fill="#fff" stroke="#000000" stroke-width="0.85"/>
<circle cx="374.5" cy="280.1" r="1.6" fill="#fff" stroke="#000000" stroke-width="0.85"/>
<circle cx="378.5" cy="280.1" r="1.6" fill="#fff" stroke="#000000" stroke-width="0.85"/>
<circle cx="384.5" cy="302" r="1.6" fill="#fff" stroke="#2AA8E0" stroke-width="0.85"/>
<circle cx="388.5" cy="302" r="1.6" fill="#fff" stroke="#2AA8E0" stroke-width="0.85"/>
<circle cx="386.5" cy="299.5" r="1.6" fill="#fff" stroke="#2AA8E0" stroke-width="0.85"/>
<circle cx="394.5" cy="301" r="1.6" fill="#fff" stroke="#006B52" stroke-width="0.85"/>
<circle cx="398.5" cy="301" r="1.6" fill="#fff" stroke="#006B52" stroke-width="0.85"/>
<circle cx="396.5" cy="297.5" r="1.6" fill="#fff" stroke="#006B52" stroke-width="0.85"/>
<line x1="386.5" y1="305.4" x2="386.5" y2="308" stroke="#231F20" stroke-width="0.8"/>
<g opacity="0.7">
<line x1="413" y1="242.09" x2="413" y2="218.78" stroke="#000000" stroke-width="1.1"/>
<line x1="411.5" y1="218.78" x2="414.5" y2="218.78" stroke="#000000" stroke-width="1.1"/>
</g>
<rect x="409" y="242.09" width="8" height="63.31" fill="#000000"/>
<g opacity="0.7">
<line x1="423" y1="286.34" x2="423" y2="273.02" stroke="#2AA8E0" stroke-width="1.1"/>
<line x1="421.5" y1="273.02" x2="424.5" y2="273.02" stroke="#2AA8E0" stroke-width="1.1"/>
</g>
<rect x="419" y="286.34" width="8" height="19.06" fill="#2AA8E0"/>
<g opacity="0.7">
<line x1="433" y1="294.91" x2="433" y2="290.15" stroke="#006B52" stroke-width="1.1"/>
<line x1="431.5" y1="290.15" x2="434.5" y2="290.15" stroke="#006B52" stroke-width="1.1"/>
</g>
<rect x="429" y="294.91" width="8" height="10.49" fill="#006B52"/>
<circle cx="413" cy="218.8" r="1.6" fill="#fff" stroke="#000000" stroke-width="0.85"/>
<circle cx="411.2" cy="252.6" r="1.6" fill="#fff" stroke="#000000" stroke-width="0.85"/>
<circle cx="414.8" cy="252.6" r="1.6" fill="#fff" stroke="#000000" stroke-width="0.85"/>
<circle cx="423" cy="272.6" r="1.6" fill="#fff" stroke="#2AA8E0" stroke-width="0.85"/>
<circle cx="421.5" cy="290" r="1.6" fill="#fff" stroke="#2AA8E0" stroke-width="0.85"/>
<circle cx="424.5" cy="288" r="1.6" fill="#fff" stroke="#2AA8E0" stroke-width="0.85"/>
<circle cx="433" cy="290" r="1.6" fill="#fff" stroke="#006B52" stroke-width="0.85"/>
<circle cx="431.5" cy="294" r="1.6" fill="#fff" stroke="#006B52" stroke-width="0.85"/>
<circle cx="434.5" cy="296" r="1.6" fill="#fff" stroke="#006B52" stroke-width="0.85"/>
<line x1="423" y1="305.4" x2="423" y2="308" stroke="#231F20" stroke-width="0.8"/>
<rect x="445.4" y="302.52" width="8" height="2.88" fill="#000000"/>
<rect x="455.4" y="303.95" width="8" height="1.45" fill="#2AA8E0"/>
<rect x="465.4" y="303.95" width="8" height="1.45" fill="#006B52"/>
<circle cx="447.4" cy="303" r="1.6" fill="#fff" stroke="#000000" stroke-width="0.85"/>
<circle cx="451.4" cy="303" r="1.6" fill="#fff" stroke="#000000" stroke-width="0.85"/>
<circle cx="449.4" cy="300.5" r="1.6" fill="#fff" stroke="#000000" stroke-width="0.85"/>
<circle cx="457.4" cy="304" r="1.6" fill="#fff" stroke="#2AA8E0" stroke-width="0.85"/>
<circle cx="461.4" cy="304" r="1.6" fill="#fff" stroke="#2AA8E0" stroke-width="0.85"/>
<circle cx="459.4" cy="304" r="1.6" fill="#fff" stroke="#2AA8E0" stroke-width="0.85"/>
<circle cx="467.4" cy="304" r="1.6" fill="#fff" stroke="#006B52" stroke-width="0.85"/>
<circle cx="471.4" cy="304" r="1.6" fill="#fff" stroke="#006B52" stroke-width="0.85"/>
<circle cx="469.4" cy="303" r="1.6" fill="#fff" stroke="#006B52" stroke-width="0.85"/>
<line x1="459.4" y1="305.4" x2="459.4" y2="308" stroke="#231F20" stroke-width="0.8"/>
<g opacity="0.7">
<line x1="486" y1="287.3" x2="486" y2="281.11" stroke="#000000" stroke-width="1.1"/>
<line x1="484.5" y1="281.11" x2="487.5" y2="281.11" stroke="#000000" stroke-width="1.1"/>
</g>
<rect x="482" y="287.3" width="8" height="18.1" fill="#000000"/>
<rect x="492" y="301.09" width="8" height="4.31" fill="#2AA8E0"/>
<rect x="502" y="298.24" width="8" height="7.16" fill="#006B52"/>
<circle cx="486" cy="280.8" r="1.6" fill="#fff" stroke="#000000" stroke-width="0.85"/>
<circle cx="484.2" cy="289.5" r="1.6" fill="#fff" stroke="#000000" stroke-width="0.85"/>
<circle cx="487.8" cy="289.5" r="1.6" fill="#fff" stroke="#000000" stroke-width="0.85"/>
<circle cx="494" cy="302" r="1.6" fill="#fff" stroke="#2AA8E0" stroke-width="0.85"/>
<circle cx="498" cy="302" r="1.6" fill="#fff" stroke="#2AA8E0" stroke-width="0.85"/>
<circle cx="496" cy="299" r="1.6" fill="#fff" stroke="#2AA8E0" stroke-width="0.85"/>
<circle cx="504" cy="299.5" r="1.6" fill="#fff" stroke="#006B52" stroke-width="0.85"/>
<circle cx="508" cy="299.5" r="1.6" fill="#fff" stroke="#006B52" stroke-width="0.85"/>
<circle cx="506" cy="296" r="1.6" fill="#fff" stroke="#006B52" stroke-width="0.85"/>
<line x1="496" y1="305.4" x2="496" y2="308" stroke="#231F20" stroke-width="0.8"/>
<text x="313.3" y="317.5" font-size="7.5" text-anchor="middle" font-style="italic" textLength="18.9" lengthAdjust="spacingAndGlyphs">KRT5</text>
<text x="349.8" y="317.5" font-size="7.5" text-anchor="middle" font-style="italic" textLength="20" lengthAdjust="spacingAndGlyphs">RPS7</text>
<text x="386.5" y="317.5" font-size="7.5" text-anchor="middle" font-style="italic" textLength="22.8" lengthAdjust="spacingAndGlyphs">RPL13</text>
<text x="423" y="317.5" font-size="7.5" text-anchor="middle" font-style="italic" textLength="25.7" lengthAdjust="spacingAndGlyphs">HOXA9</text>
<text x="459.4" y="317.5" font-size="7.5" text-anchor="middle" font-style="italic" textLength="30.6" lengthAdjust="spacingAndGlyphs">HOXA10</text>
<text x="496" y="317.5" font-size="7.5" text-anchor="middle" font-style="italic" textLength="22.4" lengthAdjust="spacingAndGlyphs">MEIS1</text>
<path d="M340.6 200.7V198.8H349.4V200.7" fill="none" stroke="#231F20" stroke-width="1.0"/>
<circle cx="343.6" cy="195.1" r="0.95" fill="#231F20"/>
<circle cx="346.4" cy="195.1" r="0.95" fill="#231F20"/>
<path d="M340.6 211.5V209.6H359.1V211.5" fill="none" stroke="#231F20" stroke-width="1.0"/>
<circle cx="349.8" cy="206" r="0.95" fill="#231F20"/>
<path d="M377.3 200.7V198.8H386.1V200.7" fill="none" stroke="#231F20" stroke-width="1.0"/>
<circle cx="380.3" cy="195.1" r="0.95" fill="#231F20"/>
<circle cx="383.1" cy="195.1" r="0.95" fill="#231F20"/>
<path d="M377.3 211.5V209.6H395.8V211.5" fill="none" stroke="#231F20" stroke-width="1.0"/>
<circle cx="385.1" cy="206" r="0.95" fill="#231F20"/>
<circle cx="387.9" cy="206" r="0.95" fill="#231F20"/>
<path d="M413.8 200.7V198.8H422.6V200.7" fill="none" stroke="#231F20" stroke-width="1.0"/>
<circle cx="418.2" cy="195.1" r="0.95" fill="#231F20"/>
<path d="M413.8 211.5V209.6H432.3V211.5" fill="none" stroke="#231F20" stroke-width="1.0"/>
<circle cx="423" cy="206" r="0.95" fill="#231F20"/>
<path d="M450.2 200.7V198.8H459V200.7" fill="none" stroke="#231F20" stroke-width="1.0"/>
<circle cx="454.6" cy="195.1" r="0.95" fill="#231F20"/>
<path d="M450.2 211.5V209.6H468.7V211.5" fill="none" stroke="#231F20" stroke-width="1.0"/>
<circle cx="459.4" cy="206" r="0.95" fill="#231F20"/>
<path d="M486.8 200.7V198.8H495.6V200.7" fill="none" stroke="#231F20" stroke-width="1.0"/>
<circle cx="489.8" cy="195.1" r="0.95" fill="#231F20"/>
<circle cx="492.6" cy="195.1" r="0.95" fill="#231F20"/>
<path d="M486.8 211.5V209.6H505.3V211.5" fill="none" stroke="#231F20" stroke-width="1.0"/>
<circle cx="496" cy="206" r="0.95" fill="#231F20"/>
<circle cx="313.3" cy="185.5" r="1.45" fill="#fff" stroke="#000000" stroke-width="1.15"/>
<text x="318.2" y="187.9" font-size="7.6" text-anchor="start" textLength="25.1" lengthAdjust="spacingAndGlyphs">CTRLsh</text>
<circle cx="349.9" cy="185.5" r="1.45" fill="#fff" stroke="#2AA8E0" stroke-width="1.15"/>
<text x="354.8" y="187.9" font-size="7.6" text-anchor="start" textLength="40.2" lengthAdjust="spacingAndGlyphs">SUPT20Hsh</text>
<circle cx="400.3" cy="185.5" r="1.45" fill="#fff" stroke="#006B52" stroke-width="1.15"/>
<text x="405.2" y="187.9" font-size="7.6" text-anchor="start" textLength="26.2" lengthAdjust="spacingAndGlyphs">ZZZ3sh</text>
<rect x="0.5" y="0.5" width="519" height="339" fill="none" stroke="#000" stroke-width="1"/>
</svg>
</body></html>
